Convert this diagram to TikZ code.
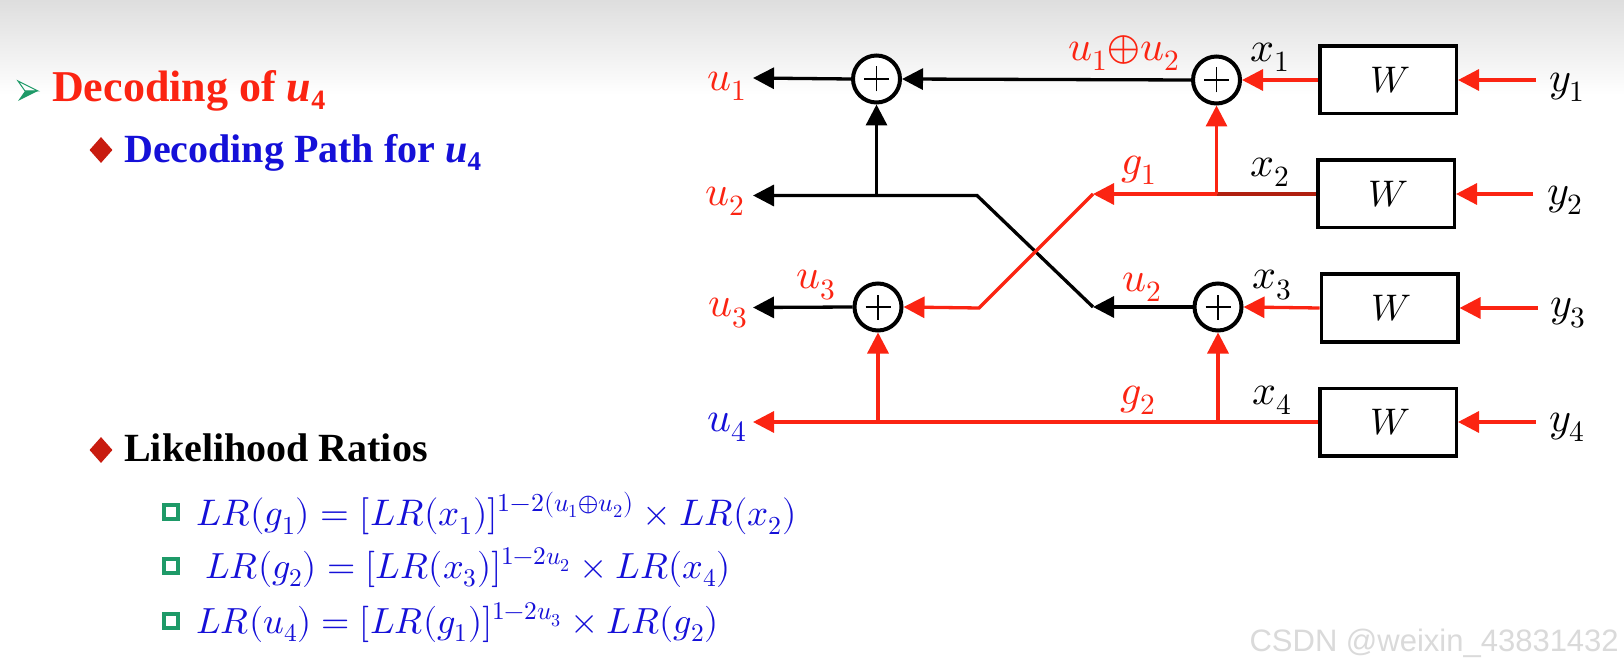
\documentclass[tikz,border=0pt]{standalone}
\usepackage{fontspec}
\usepackage{unicode-math}
\setmainfont{Liberation Serif}
\setmathfont{Latin Modern Math}
\newfontfamily\markfont{Liberation Sans}
\usetikzlibrary{arrows.meta, positioning, shapes.geometric}
\definecolor{ink}{HTML}{000000}
\definecolor{pathRed}{HTML}{FB2412}
\definecolor{wireDark}{HTML}{B0200F}
\definecolor{mathBlue}{HTML}{1510D8}
\definecolor{bulletRed}{HTML}{C81C10}
\definecolor{bulletGreen}{HTML}{1E9A68}
\definecolor{topGrey}{HTML}{DEDEDE}
\definecolor{markGrey}{HTML}{DADADA}

\begin{document}
\begin{tikzpicture}[x=1pt, y=-1pt, font=\fontsize{42pt}{46pt}\selectfont]
    \tikzset{
      adder/.style={circle, draw=ink, line width=4pt, fill=white,
                minimum size=47pt, inner sep=0pt,
                path picture={\draw[ink, line width=1.3pt]
                  ([xshift=-12.5pt]path picture bounding box.center) -- ([xshift=12.5pt]path picture bounding box.center)
                  ([yshift=-12.5pt]path picture bounding box.center) -- ([yshift=12.5pt]path picture bounding box.center);}},
      chan/.style={rectangle, draw=ink, line width=3.5pt, fill=white,
                minimum width=136.5pt, minimum height=67.5pt, inner sep=0pt},
      lab/.style={inner sep=0pt, text=pathRed},
      labk/.style={inner sep=0pt, text=ink},
      labw/.style={labk, font=\fontsize{37pt}{40pt}\selectfont},
      head/.style={anchor=base west, inner sep=0pt, font=\fontsize{40pt}{44pt}\selectfont\bfseries},
      eqn/.style={anchor=base west, inner sep=0pt, text=mathBlue, font=\fontsize{36.3pt}{40pt}\selectfont},
      dia/.style={diamond, fill=bulletRed, inner sep=0pt, minimum width=23pt, minimum height=26pt},
      sq/.style={rectangle, draw=bulletGreen, line width=3.5pt, minimum size=14pt, inner sep=0pt},
      fk/.style={-{Triangle[length=21pt, width=21pt]}, line width=3.3pt, color=ink},
      fr/.style={-{Triangle[length=21pt, width=21pt]}, line width=3.3pt, color=pathRed},
      wr/.style={line width=3.3pt, color=pathRed, line join=round}
    }
    % backdrop
    \fill[white] (0,0) rectangle (1624,668);
    \shade[top color=topGrey, bottom color=white] (0,0) rectangle (1624,95);
    % channels and adders
    \node[chan] (w1) at (1388,80) {};
    \node[chan] (w2) at (1386,194) {};
    \node[chan] (w3) at (1389.5,308) {};
    \node[chan] (w4) at (1388,422) {};
    \node[adder] (add1) at (876.5,79) {};
    \node[adder] (add2) at (1216.5,80) {};
    \node[adder] (add3) at (878,307) {};
    \node[adder] (add4) at (1218,307) {};
    \node[labw, xshift=2pt] at (w1) {$W$};
    \node[labw, xshift=2pt] at (w2) {$W$};
    \node[labw, xshift=2pt] at (w3) {$W$};
    \node[labw, xshift=2pt] at (w4) {$W$};
    % free ends
    \coordinate (o1) at (753,78);
    \coordinate (o2) at (753,195.5);
    \coordinate (o3) at (753,307.5);
    \coordinate (o4) at (753,422);
    \coordinate (i1) at (1535.5,80);
    \coordinate (i2) at (1533,194);
    \coordinate (i3) at (1537.5,308);
    \coordinate (i4) at (1535.5,422);
    \coordinate (kTop) at (977,195.5);
    \coordinate (kEnd) at (1093,307);
    \coordinate (rBot) at (979,308);
    \coordinate (rEnd) at (1093,194);
    \coordinate (jk) at (876.5,195.5);
    \coordinate (j2) at (1216.5,194);
    \coordinate (j3) at (878,422);
    \coordinate (j4) at (1218,422);
    % black wires
    \draw[fk] (add2.west) -- (add1.east);
    \draw[fk] (add1.west) -- (o1);
    \draw[fk] (jk) -- (add1.south);
    \draw[fk] (kEnd) -- (kTop) -- (o2);
    \draw[fk] (add3.west) -- (o3);
    \draw[fk] (add4.west) -- (kEnd);
    % red wires
    \draw[fr] (i1) -- (w1.east);
    \draw[fr] (i2) -- (w2.east);
    \draw[fr] (i3) -- (w3.east);
    \draw[fr] (i4) -- (w4.east);
    \draw[fr] (w1.west) -- (add2.east);
    \draw[fr] (w3.west) -- (add4.east);
    \draw[wr, wireDark] (w2.west) -- (j2);
    \draw[fr] (j2) -- (rEnd);
    \draw[fr] (j2) -- (add2.south);
    \draw[fr] (rEnd) -- (rBot) -- (add3.east);
    \draw[fr] (w4.west) -- (o4);
    \draw[fr] (j3) -- (add3.south);
    \draw[fr] (j4) -- (add4.south);
    % wire labels
    \node[lab] (lu1) at (727,86) {$u_1$};
    \node[lab] (lu2) at (725,201) {$u_2$};
    \node[lab] (lu3) at (728,313) {$u_3$};
    \node[lab, text=mathBlue] (lu4) at (727,427) {$u_4$};
    \node[lab] (lsum) at (1124,53) {$u_1{\oplus}u_2$};
    \node[lab] (lg1) at (1139,170) {$g_1$};
    \node[lab] (lu3b) at (816,285) {$u_3$};
    \node[lab] (lu2b) at (1142,287) {$u_2$};
    \node[lab] (lg2) at (1138,400) {$g_2$};
    \node[labk] (lx1) at (1270,57) {$x_1$};
    \node[labk] (lx2) at (1270,172) {$x_2$};
    \node[labk] (lx3) at (1272,285) {$x_3$};
    \node[labk] (lx4) at (1272,400) {$x_4$};
    \node[labk] (ly1) at (1567,87) {$y_1$};
    \node[labk] (ly2) at (1565,200) {$y_2$};
    \node[labk] (ly3) at (1568,313) {$y_3$};
    \node[labk] (ly4) at (1567,427) {$y_4$};
    % left text
    \fill[bulletGreen] (18,101) -- (38,91) -- (25,91) -- cycle;
    \draw[bulletGreen, line width=1pt, line join=miter] (18,81) -- (38,91) -- (25,91) -- cycle;
    \node[head, text=pathRed, font=\fontsize{44pt}{48pt}\selectfont\bfseries] (tDec) at (52,102) {Decoding of \textit{u}\raisebox{-8pt}{\fontsize{28pt}{28pt}\selectfont 4}};
    \node[dia] (d1) at (101,150) {};
    \node[head, text=mathBlue] (tPath) at (124,163) {Decoding Path for \textit{u}\raisebox{-8pt}{\fontsize{27pt}{27pt}\selectfont 4}};
    \node[dia] (d2) at (101,450) {};
    \node[head, text=ink] (tLik) at (124,461) {Likelihood Ratios};
    \node[sq] (s1) at (171,512) {};
    \node[eqn, font=\fontsize{37pt}{40pt}\selectfont] (e1) at (196,525) {$LR(g_1)=[LR(x_1)]^{1-2(u_1\oplus u_2)}\times LR(x_2)$};
    \node[sq] (s2) at (171,566) {};
    \node[eqn] (e2) at (205,578) {$LR(g_2)=[LR(x_3)]^{1-2u_2}\times LR(x_4)$};
    \node[sq] (s3) at (171,621) {};
    \node[eqn] (e3) at (196,633) {$LR(u_4)=[LR(g_1)]^{1-2u_3}\times LR(g_2)$};
    \node[anchor=base east, inner sep=0pt, text=markGrey, font=\fontsize{31pt}{34pt}\markfont] (wm) at (1619,651) {CSDN @weixin\_43831432};
\end{tikzpicture}
\end{document}
